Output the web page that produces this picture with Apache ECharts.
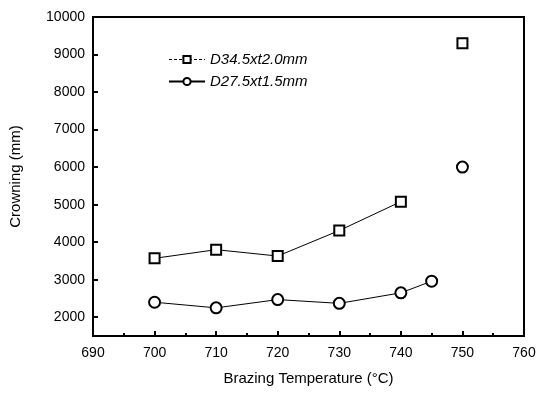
<!DOCTYPE html>
<html>
<head>
<meta charset="utf-8">
<script src="https://cdn.jsdelivr.net/npm/echarts@6/dist/echarts.min.js"></script>
<style>
  html, body { margin: 0; padding: 0; background: #fff; }
  #chart { width: 549px; height: 396px; }
</style>
</head>
<body>
<div id="chart"></div>
<script>
// values
const seriesNames = ['D34.5xt2.0mm', 'D27.5xt1.5mm']
// square series: 700..740 joined, 750 stands alone
const squareTemps = [700, 710, 720, 730, 740, 745, 750]
const squareValues = [3570, 3800, 3630, 4310, 5080, '-', 9300]
// circle series: 700..745 joined, 750 stands alone
const circleTemps = [700, 710, 720, 730, 740, 745, 747, 750]
const circleValues = [2400, 2250, 2470, 2370, 2650, 2960, '-', 6000]
const yTickLabels = [2000, 3000, 4000, 5000, 6000, 7000, 8000, 9000, 10000]

const font = 'Liberation Sans, Arial, sans-serif'

const chart = echarts.init(document.getElementById('chart'))

const option = {
  animation: false,
  backgroundColor: '#fff',
  grid: {
    left: 92,
    right: 25,
    top: 17,
    bottom: 60,
    show: true,
    borderColor: '#000',
    borderWidth: 2,
  },
  legend: {
    left: 163,
    top: 47,
    orient: 'vertical',
    itemGap: 7,
    itemWidth: 36,
    itemHeight: 9,
    textStyle: { fontFamily: font, fontSize: 15, fontStyle: 'italic', color: '#000' },
    data: [
      { name: seriesNames[0], lineStyle: { type: [3, 2], width: 1 } },
      { name: seriesNames[1] },
    ],
  },
  xAxis: {
    type: 'value',
    min: 690,
    max: 760,
    interval: 10,
    name: 'Brazing Temperature (°C)',
    nameLocation: 'middle',
    nameGap: 35,
    nameTextStyle: { fontFamily: font, fontSize: 15, color: '#000' },
    axisLine: { lineStyle: { color: '#000', width: 2 } },
    axisTick: { inside: true, length: 5, lineStyle: { color: '#000', width: 2 } },
    minorTick: { show: true, splitNumber: 2, length: 3, lineStyle: { color: '#000', width: 2 } },
    axisLabel: { fontFamily: font, fontSize: 14, color: '#000', margin: 10 },
    splitLine: { show: false },
  },
  yAxis: {
    type: 'value',
    min: 1500,
    max: 10000,
    name: 'Crowning (mm)',
    nameLocation: 'middle',
    nameGap: 70,
    nameTextStyle: { fontFamily: font, fontSize: 15, color: '#000' },
    axisLine: { lineStyle: { color: '#000', width: 2 } },
    axisTick: {
      inside: true,
      length: 5,
      customValues: yTickLabels,
      lineStyle: { color: '#000', width: 2 },
    },
    axisLabel: {
      fontFamily: font,
      fontSize: 14,
      color: '#000',
      margin: 8,
      customValues: yTickLabels,
      formatter: (v) => String(v),
    },
    splitLine: { show: false },
  },
  series: [
    {
      name: seriesNames[0],
      type: 'line',
      data: squareTemps.map((t, i) => [t, squareValues[i]]),
      symbol: 'emptyRect',
      symbolSize: 10,
      showSymbol: true,
      showAllSymbol: true,
      connectNulls: false,
      color: '#000',
      lineStyle: { color: '#000', width: 1, type: 'solid' },
      itemStyle: { color: '#000', borderColor: '#000', borderWidth: 1.5 },
    },
    {
      name: seriesNames[1],
      type: 'line',
      data: circleTemps.map((t, i) => [t, circleValues[i]]),
      symbol: 'emptyCircle',
      symbolSize: 11,
      showSymbol: true,
      showAllSymbol: true,
      connectNulls: false,
      color: '#000',
      lineStyle: { color: '#000', width: 1 },
      itemStyle: { color: '#000', borderColor: '#000', borderWidth: 1.5 },
    },
  ],
}

chart.setOption(option)
</script>
</body>
</html>
